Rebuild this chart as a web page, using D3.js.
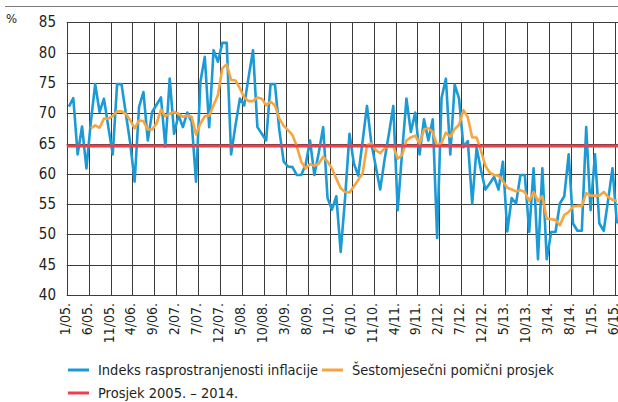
<!DOCTYPE html>
<html>
<head>
<meta charset="utf-8">
<script src="https://cdn.jsdelivr.net/npm/d3@7"></script>
<style>
  body { margin: 0; background: #fff; }
  svg { display: block; }
  text { font-family: "Liberation Sans Narrow", "Arial Narrow", "DejaVu Sans Condensed", sans-serif; fill: #231f20; }
</style>
</head>
<body>
<svg id="chart" width="618" height="402"></svg>
<script>
// tick labels on the month axis (every 5th month, Jan 2005 .. Jun 2015)
var tickLabels = ["1/05.", "6/05.", "11/05.", "4/06.", "9/06.", "2/07.", "7/07.", "12/07.", "5/08.",
  "10/08.", "3/09.", "8/09.", "1/10.", "6/10.", "11/10.", "4/11.", "9/11.", "2/12.", "7/12.",
  "12/12.", "5/13.", "10/13.", "3/14.", "8/14.", "1/15.", "6/15."];

// Indeks rasprostranjenosti inflacije, monthly from 1/05
var indexValues = [
  71.1, 72.5, 63.2, 67.8, 60.9, 68.5, 74.8, 70.2, 72.4, 67.7,
  63.2, 74.8, 74.8, 69.9, 65.0, 58.7, 71.0, 73.5, 65.5, 70.2,
  71.4, 72.6, 64.5, 75.7, 66.6, 69.7, 67.7, 70.1, 68.6, 58.7,
  75.2, 79.3, 67.7, 80.4, 78.5, 81.6, 81.6, 63.2, 68.0, 72.4,
  71.3, 76.0, 80.4, 67.7, 66.6, 65.5, 74.8, 74.8, 67.2, 62.0,
  61.2, 61.1, 59.8, 59.8, 61.5, 65.5, 59.8, 63.5, 67.7, 56.0,
  54.1, 56.3, 47.1, 56.0, 66.6, 61.7, 59.7, 65.4, 71.2, 65.0,
  61.2, 57.4, 62.3, 66.6, 71.2, 54.0, 63.5, 72.4, 66.9, 70.1,
  63.2, 69.0, 65.5, 69.0, 49.4, 72.5, 75.7, 63.2, 74.7, 72.4,
  64.4, 65.4, 55.1, 64.3, 60.6, 57.4, 58.4, 59.5, 57.4, 62.0,
  50.5, 56.0, 55.1, 59.8, 59.8, 50.4, 60.9, 45.9, 60.9, 45.9,
  50.4, 50.4, 55.1, 56.3, 63.2, 51.8, 50.6, 50.6, 67.7, 54.0,
  63.2, 51.8, 50.6, 55.7, 60.9, 51.8
];

// Šestomjesečni pomični prosjek, starts at 6/05 (month index 5)
var avgStart = 5;
var avgValues = [
  67.5, 68.0, 67.6, 69.1, 69.1,
  69.5, 70.3, 70.3, 69.9, 68.8, 67.5, 68.8, 68.7, 67.3, 67.3,
  68.3, 70.6, 69.5, 69.9, 70.2, 69.9, 69.4, 69.6, 69.4, 66.5,
  68.3, 69.5, 69.6, 71.3, 73.0, 77.4, 78.1, 75.5, 75.4, 74.1,
  72.6, 72.0, 72.0, 72.6, 72.4, 71.3, 71.9, 71.3, 69.1, 67.9,
  67.2, 66.4, 64.5, 62.0, 60.9, 61.6, 61.3, 61.7, 62.8, 62.0,
  60.9, 59.2, 57.6, 57.0, 56.9, 57.9, 59.0, 60.1, 64.7, 65.0,
  63.9, 63.4, 64.2, 64.5, 64.5, 62.5, 63.1, 65.5, 66.0, 66.3,
  65.0, 67.3, 67.5, 66.9, 64.6, 65.1, 66.8, 66.1, 67.4, 68.1,
  70.5, 69.3, 66.0, 66.0, 63.8, 61.3, 60.2, 59.8, 59.7, 58.8,
  57.7, 57.4, 57.1, 57.3, 57.0, 55.5, 57.0, 55.5, 56.3, 52.6,
  52.5, 52.4, 51.5, 53.2, 53.7, 54.6, 54.7, 54.7, 56.8, 56.4,
  56.4, 56.4, 57.0, 56.2, 55.7, 55.5
];

// Prosjek 2005. – 2014.
var longRunAverage = 64.6;

var yTicks = [40, 45, 50, 55, 60, 65, 70, 75, 80, 85];

var legendItems = [
  { label: "Indeks rasprostranjenosti inflacije", color: "#1b9ad6", x: 68, y: 370 },
  { label: "Šestomjesečni pomični prosjek", color: "#f7a540", x: 322, y: 370 },
  { label: "Prosjek 2005. – 2014.", color: "#ec3f4b", x: 68, y: 393 }
];

var svg = d3.select("#chart");
var plotLeft = 66.7, monthW = 4.384, plotTop = 22.3, plotBottom = 295;
var nMonths = indexValues.length;

var x = d3.scaleLinear().domain([0, nMonths]).range([plotLeft, plotLeft + nMonths * monthW]);
var y = d3.scaleLinear().domain([40, 85]).range([plotBottom, plotTop]);

// thin rule at the very top
svg.append("line")
  .attr("x1", 5).attr("x2", 618).attr("y1", 6.5).attr("y2", 6.5)
  .attr("stroke", "#7a7a7a").attr("stroke-width", 1);

svg.append("text").attr("x", 6).attr("y", 23)
  .style("font-size", "13px").text("%");

// grid
var grid = svg.append("g");
grid.selectAll("line.h").data(yTicks).enter().append("line")
  .attr("x1", plotLeft).attr("x2", x(nMonths))
  .attr("y1", function (d) { return Math.round(y(d)) + 0.5; })
  .attr("y2", function (d) { return Math.round(y(d)) + 0.5; })
  .attr("stroke", "#3c3c3c").attr("stroke-width", 1);
grid.selectAll("line.v").data(tickLabels).enter().append("line")
  .attr("x1", function (d, i) { return Math.round(x(i * 5)) + 0.5; })
  .attr("x2", function (d, i) { return Math.round(x(i * 5)) + 0.5; })
  .attr("y1", y(85)).attr("y2", y(40))
  .attr("stroke", "#3c3c3c").attr("stroke-width", 1);

// y labels
svg.append("g").selectAll("text").data(yTicks).enter().append("text")
  .attr("x", 56).attr("y", function (d) { return y(d) + 5; })
  .attr("text-anchor", "end")
  .style("font-size", "15px")
  .text(function (d) { return d; });

// x labels, rotated
svg.append("g").selectAll("text").data(tickLabels).enter().append("text")
  .attr("transform", function (d, i) { return "translate(" + (x(i * 5) + 3) + ",303) rotate(-90)"; })
  .attr("text-anchor", "end")
  .style("font-size", "14px")
  .text(function (d) { return d; });

var line = d3.line()
  .x(function (d) { return x(d.i + 0.5); })
  .y(function (d) { return y(d.v); });

svg.append("path")
  .datum(indexValues.map(function (v, i) { return { i: i, v: v }; }))
  .attr("d", line)
  .attr("fill", "none").attr("stroke", legendItems[0].color)
  .attr("stroke-width", 2.6).attr("stroke-linejoin", "round");

svg.append("path")
  .datum(avgValues.map(function (v, i) { return { i: i + avgStart, v: v }; }))
  .attr("d", line)
  .attr("fill", "none").attr("stroke", legendItems[1].color)
  .attr("stroke-width", 2.6).attr("stroke-linejoin", "round");

svg.append("line")
  .attr("x1", plotLeft).attr("x2", x(nMonths))
  .attr("y1", y(longRunAverage)).attr("y2", y(longRunAverage))
  .attr("stroke", legendItems[2].color).attr("stroke-width", 3);

// legend
var leg = svg.append("g").selectAll("g").data(legendItems).enter().append("g");
leg.append("line")
  .attr("x1", function (d) { return d.x; }).attr("x2", function (d) { return d.x + 21; })
  .attr("y1", function (d) { return d.y; }).attr("y2", function (d) { return d.y; })
  .attr("stroke", function (d) { return d.color; }).attr("stroke-width", 3);
leg.append("text")
  .attr("x", function (d) { return d.x + 30; }).attr("y", function (d) { return d.y + 5; })
  .style("font-size", "14.5px")
  .text(function (d) { return d.label; });
</script>
</body>
</html>
